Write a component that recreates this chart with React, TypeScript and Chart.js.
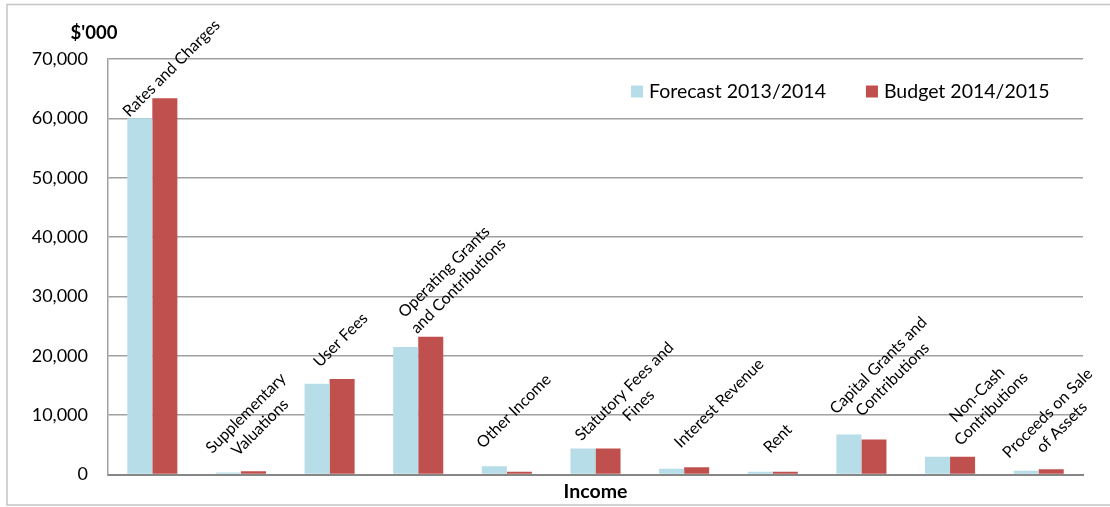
import { useEffect, useRef } from "react";
import { Chart, registerables } from "chart.js";

Chart.register(...registerables);

// ---- data ----
const categories: string[][] = [
  ["Rates and Charges"],
  ["Supplementary", "Valuations"],
  ["User Fees"],
  ["Operating Grants", "and Contributions"],
  ["Other Income"],
  ["Statutory Fees and", "Fines"],
  ["Interest Revenue"],
  ["Rent"],
  ["Capital Grants and", "Contributions"],
  ["Non-Cash", "Contributions"],
  ["Proceeds on Sale", "of Assets"],
];
const seriesNames = ["Forecast 2013/2014", "Budget 2014/2015"];
const forecast = [60000, 350, 15300, 21500, 1400, 4400, 1000, 500, 6750, 3000, 650];
const budget = [63400, 550, 16100, 23200, 500, 4400, 1250, 500, 5900, 3000, 900];
const yTicks = [0, 10000, 20000, 30000, 40000, 50000, 60000, 70000];
const yTitle = "$'000";
const xTitle = "Income";

// ---- layout (label nudges relative to category centre / top of taller bar) ----
const labelNudge: [number, number][] = [
  [19, -30], [12, -51], [11, -39], [33, -58], [7, -55], [36, -50],
  [35, -64], [5, -33], [24, -62], [34, -55], [16, -49],
];

const COLORS = ["#b7dde8", "#c0504d"];
const FONT = "Lato, 'Open Sans', sans-serif";

const decorPlugin = {
  id: "decor",
  beforeDraw(chart: any) {
    const ctx = chart.ctx;
    ctx.save();
    ctx.fillStyle = "#fff";
    ctx.fillRect(0, 0, chart.width, chart.height);
    ctx.strokeStyle = "#c4c4c4";
    ctx.lineWidth = 1.5;
    ctx.strokeRect(7, 4.5, chart.width, 500.5);
    ctx.restore();
  },
  afterDatasetsDraw(chart: any) {
    const ctx = chart.ctx;
    const xs = chart.scales.x;
    const m0 = chart.getDatasetMeta(0);
    const m1 = chart.getDatasetMeta(1);
    ctx.save();
    ctx.fillStyle = "#000";
    ctx.font = `16px ${FONT}`;
    ctx.textAlign = "center";
    ctx.textBaseline = "middle";
    const lh = 20;
    categories.forEach((lines, i) => {
      const cx = xs.getPixelForValue(i);
      const top = Math.min(m0.data[i].y, m1.data[i].y);
      const px = cx + labelNudge[i][0];
      const py = top + labelNudge[i][1];
      ctx.save();
      ctx.translate(px, py);
      ctx.rotate(-Math.PI / 4);
      lines.forEach((ln, k) => {
        ctx.fillText(ln, 0, (k - (lines.length - 1) / 2) * lh);
      });
      ctx.restore();
    });
    ctx.restore();
  },
  afterDraw(chart: any) {
    const ctx = chart.ctx;
    ctx.save();
    // y title
    ctx.fillStyle = "#000";
    ctx.font = `bold 18.5px ${FONT}`;
    ctx.textAlign = "center";
    ctx.textBaseline = "middle";
    ctx.fillText(yTitle, 94, 33);
    // legend
    ctx.font = `19.5px ${FONT}`;
    ctx.textAlign = "left";
    let x = 631;
    const cy = 91.5;
    seriesNames.forEach((name, i) => {
      ctx.fillStyle = COLORS[i];
      ctx.fillRect(x, cy - 6, 12, 12);
      ctx.fillStyle = "#000";
      ctx.fillText(name, x + 18, cy);
      x += 18 + ctx.measureText(name).width + 40;
    });
    ctx.restore();
  },
};

export default function App() {
  const ref = useRef<HTMLCanvasElement | null>(null);
  useEffect(() => {
    if (!ref.current) return;
    const chart = new Chart(ref.current, {
      type: "bar",
      data: {
        labels: categories.map((c) => c.join(" ")),
        datasets: [
          { label: seriesNames[0], data: forecast, backgroundColor: COLORS[0], borderWidth: 0 },
          { label: seriesNames[1], data: budget, backgroundColor: COLORS[1], borderWidth: 0 },
        ],
      },
      options: {
        animation: false,
        responsive: false,
        layout: { padding: { top: 59, right: 27, bottom: 0, left: 0 } },
        plugins: { legend: { display: false }, tooltip: { enabled: false } },
        datasets: { bar: { categoryPercentage: 0.565, barPercentage: 1 } },
        scales: {
          x: {
            ticks: { display: false },
            grid: { display: false, drawTicks: false },
            border: { display: true, color: "#868686", width: 2 },
            title: {
              display: true,
              text: xTitle,
              color: "#000",
              font: { family: FONT, size: 19.5, weight: "bold" },
              padding: { top: 5, bottom: 4 },
            },
          },
          y: {
            min: 0,
            max: 70000,
            afterBuildTicks: (scale: any) => {
              scale.ticks = yTicks.map((v) => ({ value: v }));
            },
            afterFit: (scale: any) => {
              scale.width = 108;
            },
            ticks: {
              padding: 20,
              color: "#000",
              font: { family: FONT, size: 18 },
              callback: (v: any) => Number(v).toLocaleString("en-US"),
            },
            grid: { color: "#a0a0a0", lineWidth: 1.5, drawTicks: false },
            border: { display: true, color: "#a0a0a0", width: 1.5 },
          },
        },
      },
      plugins: [decorPlugin],
    });
    return () => chart.destroy();
  }, []);
  return (
    <div style={{ position: "absolute", left: 0, top: 0, width: 1110, height: 507 }}>
      <canvas ref={ref} width={1110} height={507} />
    </div>
  );
}
